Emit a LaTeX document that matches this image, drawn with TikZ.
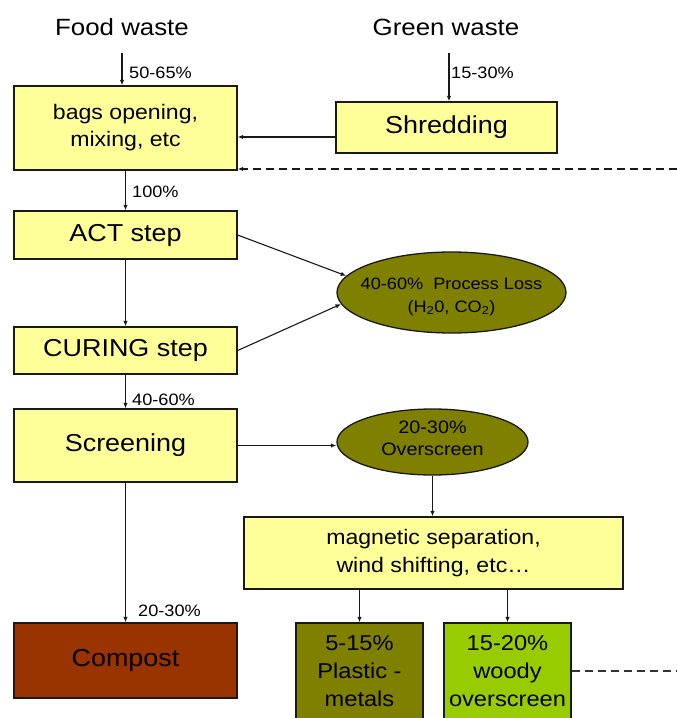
\documentclass[tikz,border=0pt]{standalone}
\usepackage{fontspec}
\setmainfont{Liberation Sans}[FakeStretch=1.1]
\usetikzlibrary{arrows.meta,shapes.geometric}
\definecolor{yfill}{HTML}{FFFF99}
\definecolor{olivef}{HTML}{808000}
\definecolor{brownf}{HTML}{993300}
\definecolor{limef}{HTML}{99CC00}
\begin{document}
\begin{tikzpicture}[x=1pt,y=-1pt,
 box/.style={draw=black!90,line width=1.3pt,fill=yfill,inner sep=0pt,align=center},
 oval/.style={ellipse,draw=black!90,line width=1.3pt,fill=olivef,inner sep=0pt},
 ovaltext/.style={inner sep=0pt,align=center},
 arr/.style={draw=black!90,line width=1.1pt,-{Latex[length=5.5pt,width=4.5pt]}},
 darr/.style={arr,dash pattern=on 8pt off 5pt},
 dline/.style={draw=black!80,line width=1.1pt,dash pattern=on 8pt off 5pt},
 lbl/.style={anchor=west,inner sep=0pt,font=\fontsize{16.5}{18}\selectfont},
 big/.style={font=\fontsize{24.5}{28}\selectfont},
 mid/.style={font=\fontsize{21}{27}\selectfont},
 title/.style={font=\fontsize{23.5}{28}\selectfont,inner sep=0pt}]
\useasboundingbox (0,0) rectangle (677,718);
\clip (0,0) rectangle (677,718);
% titles
\node[title] (food) at (122,27) {Food waste};
\node[title] (green) at (446,27) {Green waste};
% boxes
\node[box,mid,minimum width=223,minimum height=84] (bags) at (125.5,128) {bags opening,\\mixing, etc};
\node[box,big,minimum width=221,minimum height=51] (shred) at (446.5,127.5) {Shredding};
\node[box,big,minimum width=223,minimum height=48] (act) at (125.5,235) {ACT step};
\node[box,big,minimum width=223,minimum height=47] (cure) at (125.5,350.5) {CURING step};
\node[box,big,minimum width=223,minimum height=73] (screen) at (125.5,445.5) {Screening};
\node[box,big,fill=brownf,minimum width=223,minimum height=75] (compost) at (125.5,660.5) {Compost};
\node[oval,minimum width=229,minimum height=81] (loss) at (451.5,292.5) {};
\node[ovaltext,font=\fontsize{16.5}{23}\selectfont] (lossT) at (451.5,296.5) {40-60\%~~Process Loss\\(H\textsubscript{2}0, CO\textsubscript{2})};
\node[oval,minimum width=191,minimum height=66] (over) at (432.5,442) {};
\node[ovaltext,font=\fontsize{18}{22}\selectfont] (overT) at (432.5,438) {20-30\%\\Overscreen};
\node[box,font=\fontsize{21}{28}\selectfont,minimum width=379,minimum height=72] (mag) at (433.5,553) {magnetic separation,\\wind shifting, etc\ldots};
\node[box,fill=olivef,font=\fontsize{21.5}{28}\selectfont,minimum width=127,minimum height=96] (plastic) at (359.5,671) {5-15\%\\Plastic -\\metals};
\node[box,fill=limef,font=\fontsize{21.5}{28}\selectfont,minimum width=127,minimum height=96] (woody) at (507.5,671) {15-20\%\\woody\\overscreen};
% connectors
\coordinate (fw) at (122,53);
\draw[arr] (fw) -- (fw |- bags.north);
\node[lbl] (l1) at (129,73) {50-65\%};
\coordinate (gw) at (449,53);
\draw[arr] (gw) -- (gw |- shred.north);
\node[lbl] (l2) at (451,73) {15-30\%};
\draw[arr] ([yshift=-9.5pt]shred.west) -- ([yshift=-9.5pt]shred.west -| bags.east);
\coordinate (dr) at (677,169);
\draw[darr] (dr) -- (dr -| bags.east);
\draw[arr] (bags.south) -- (act.north);
\node[lbl] (l3) at (132,192) {100\%};
\draw[arr] (act.south) -- (cure.north);
\draw[arr] (act.east) -- (loss.171);
\draw[arr] (cure.east) -- (loss.186);
\draw[arr] (cure.south) -- (screen.north);
\node[lbl] (l4) at (132,400) {40-60\%};
\draw[arr] (screen.east) -- (screen.east -| over.west);
\draw[arr] (over.south) -- (over.south |- mag.north);
\draw[arr] (screen.south) -- (compost.north);
\node[lbl] (l5) at (138,611) {20-30\%};
\draw[arr] (mag.south -| plastic.north) -- (plastic.north);
\draw[arr] (mag.south -| woody.north) -- (woody.north);
\coordinate (dw) at (677,671);
\draw[dline] (woody.east) -- (dw);
\end{tikzpicture}
\end{document}
